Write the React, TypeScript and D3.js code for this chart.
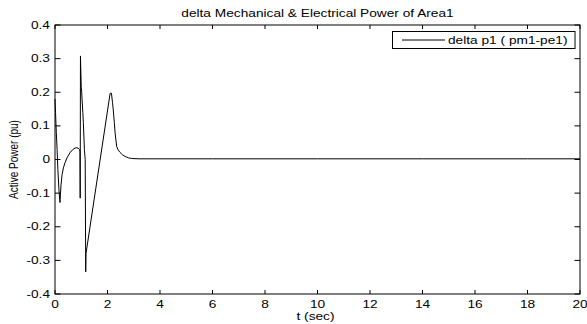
import React from "react";
import * as d3 from "d3";

const W = 587;
const H = 324;

const titleText = "delta Mechanical & Electrical Power of Area1";
const xLabelText = "t (sec)";
const yLabelText = "Active Power (pu)";
const legendText = "delta p1 ( pm1-pe1)";

const xTicks = [0, 2, 4, 6, 8, 10, 12, 14, 16, 18, 20];
const yTicks = [-0.4, -0.3, -0.2, -0.1, 0, 0.1, 0.2, 0.3, 0.4];
const yTickLabels = ["-0.4", "-0.3", "-0.2", "-0.1", "0", "0.1", "0.2", "0.3", "0.4"];

const timeValues = [
  0, 0.01, 0.02, 0.05, 0.08, 0.11, 0.15, 0.18, 0.19, 0.21, 0.23, 0.27, 0.32, 0.38,
  0.47, 0.57, 0.67, 0.76, 0.83, 0.88, 0.93, 0.95, 0.96, 0.97, 1.0, 1.01, 1.03,
  1.06, 1.08, 1.12, 1.14, 1.15, 1.17, 1.18, 2.1, 2.15, 2.19, 2.22, 2.26, 2.29,
  2.35, 2.41, 2.48, 2.57, 2.67, 2.8, 2.92, 3.2, 4, 6, 8, 10, 12, 14, 16, 18, 20,
];
const powerValues = [
  0.18, 0.16, 0.14, 0.08, 0.03, -0.03, -0.09, -0.12, -0.128, -0.1, -0.075, -0.045,
  -0.025, -0.01, 0.007, 0.02, 0.029, 0.034, 0.035, 0.034, 0.03, 0.025, -0.115,
  0.308, 0.215, 0.21, 0.18, 0.14, 0.11, 0.03, 0.01, 0.0, -0.334, -0.28, 0.197,
  0.197, 0.17, 0.147, 0.11, 0.079, 0.038, 0.028, 0.021, 0.014, 0.009, 0.005,
  0.003, 0.002, 0.002, 0.002, 0.002, 0.002, 0.002, 0.002, 0.002, 0.002, 0.002,
];

const SX = 1.37;
const FONT = "'Liberation Sans', Arial, sans-serif";

export default function App() {
  const left = 55, right = 580, top = 25, bottom = 294;
  const x = d3.scaleLinear().domain([0, 20]).range([left, right]);
  const y = d3.scaleLinear().domain([-0.4, 0.4]).range([bottom, top]);
  const line = d3
    .line<number>()
    .x((_, i) => x(timeValues[i]))
    .y((v) => y(v));
  const pathD = line(powerValues) || "";
  const cx = (left + right) / 2;

  const txt = (
    content: string,
    px: number,
    py: number,
    anchor: "start" | "middle" | "end",
    key?: string
  ) => (
    <text
      key={key}
      transform={`translate(${px},${py}) scale(${SX},1)`}
      textAnchor={anchor}
      fontSize={10}
      fontFamily={FONT}
      fill="#000"
    >
      {content}
    </text>
  );

  return (
    <svg
      width={W}
      height={H}
      style={{ position: "absolute", left: 0, top: 0, background: "#fff" }}
    >
      <rect x={0} y={0} width={W} height={H} fill="#fff" />
      {/* ticks */}
      {xTicks.map((t) => (
        <g key={"xt" + t} stroke="#000" strokeWidth={1}>
          <line x1={x(t)} x2={x(t)} y1={bottom} y2={bottom - 4} />
          <line x1={x(t)} x2={x(t)} y1={top} y2={top + 4} />
        </g>
      ))}
      {yTicks.map((t) => (
        <g key={"yt" + t} stroke="#000" strokeWidth={1}>
          <line x1={left} x2={left + 5.5} y1={y(t)} y2={y(t)} />
          <line x1={right} x2={right - 5.5} y1={y(t)} y2={y(t)} />
        </g>
      ))}
      <rect
        x={left}
        y={top}
        width={right - left}
        height={bottom - top}
        fill="none"
        stroke="#000"
        strokeWidth={1}
      />
      {/* data line */}
      <path d={pathD} fill="none" stroke="#000" strokeWidth={1} strokeLinejoin="round" />
      {/* tick labels */}
      {xTicks.map((t) => txt(String(t), x(t), 308, "middle", "xl" + t))}
      {yTicks.map((t, i) => txt(yTickLabels[i], left - 5, y(t) + 3.5, "end", "yl" + t))}
      {/* title & axis labels */}
      {txt(titleText, cx, 17, "middle")}
      {txt(xLabelText, cx - 2, 320, "middle")}
      <text
        transform={`translate(18,${(top + bottom) / 2}) scale(${SX},1) rotate(-90)`}
        textAnchor="middle"
        fontSize={10}
        fontFamily={FONT}
        fill="#000"
      >
        {yLabelText}
      </text>
      {/* legend */}
      <rect x={392.5} y={31.5} width={182.5} height={17} fill="#fff" stroke="#000" strokeWidth={1} />
      <line x1={402} x2={445} y1={40} y2={40} stroke="#000" strokeWidth={1} />
      {txt(legendText, 448, 44, "start")}
    </svg>
  );
}
